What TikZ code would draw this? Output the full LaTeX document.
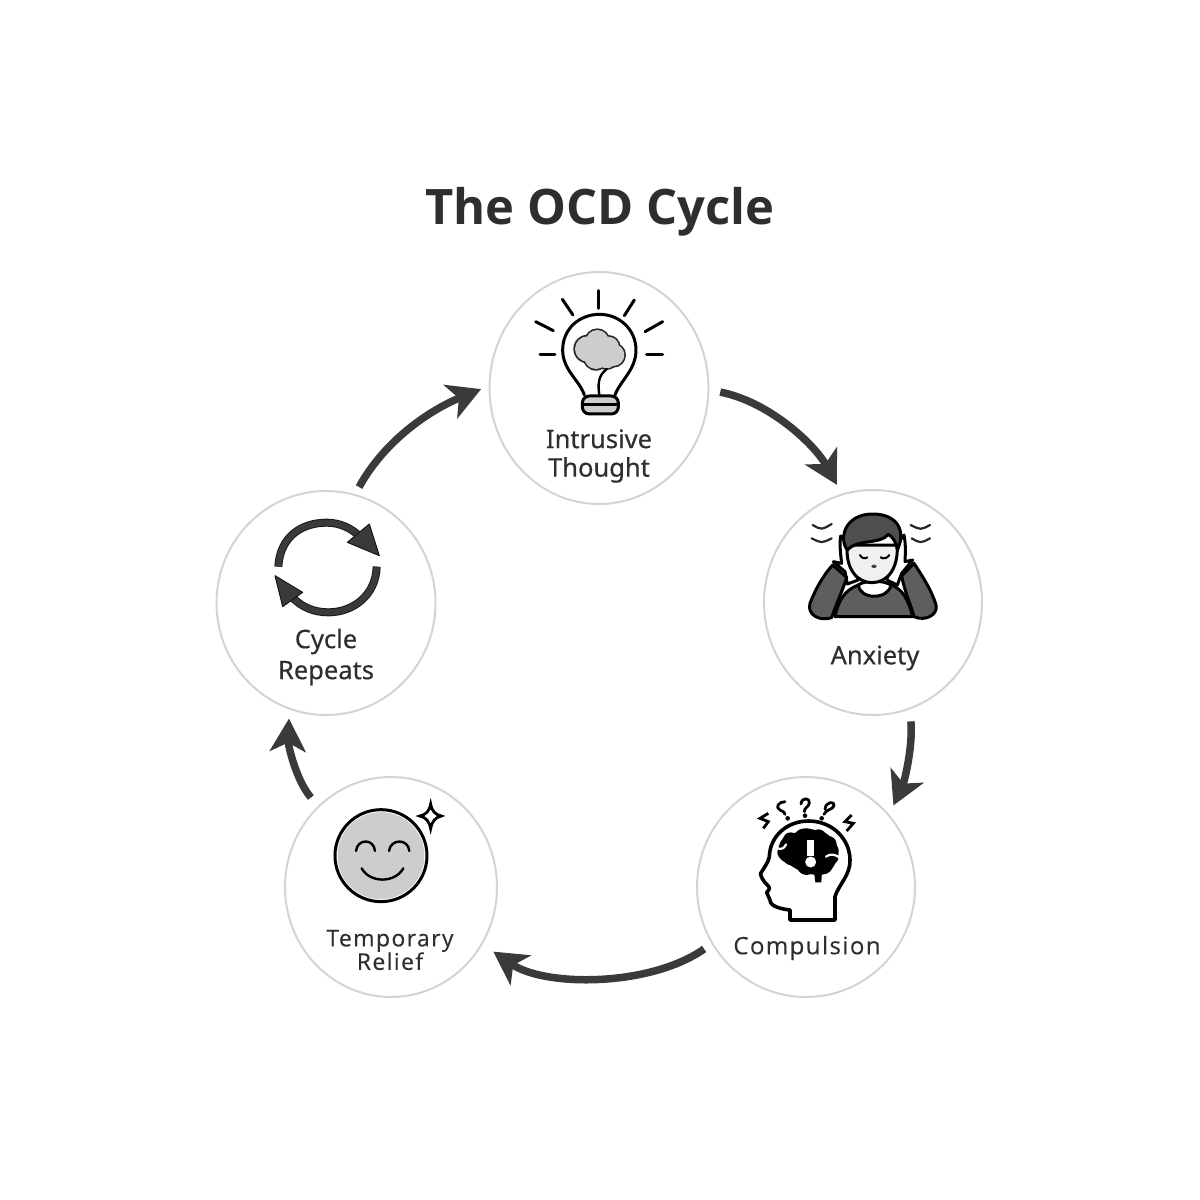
\documentclass[tikz,border=0pt]{standalone}
\usepackage{fontspec}
\setmainfont{Open Sans}
\newfontfamily\labelf[FakeBold=0.35]{Noto Sans}
\newfontfamily\spaced[LetterSpace=6,FakeBold=0.2]{Open Sans}
\usetikzlibrary{shapes.geometric,arrows.meta,calc}
\definecolor{ink}{HTML}{2E2E2E}
\definecolor{arrowc}{HTML}{3A3A3A}
\definecolor{rim}{HTML}{D4D4D4}
\definecolor{midg}{HTML}{CDCDCD}
\definecolor{darkg}{HTML}{5E5E5E}
\definecolor{hairg}{HTML}{4E4E4E}
\tikzset{
 stage/.style={ellipse,draw=rim,line width=2pt,fill=white,inner sep=0pt},
 label/.style={text=ink,align=center,inner sep=0pt},
 flow/.style={draw=arrowc,line width=7.5pt,-{Stealth[length=33pt,width=36pt,inset=9pt]}},
 iconline/.style={draw=black,line width=3pt,line cap=round,line join=round},
 zoomed/.style={x=0.3333pt,y=-0.3333pt},
}
\begin{document}
\begin{tikzpicture}[x=1pt,y=-1pt]
\useasboundingbox (0,0) rectangle (1200,1200);
\fill[white] (0,0) rectangle (1200,1200);
\node[text=ink,inner sep=0pt,font=\fontsize{48.9}{56}\selectfont\bfseries] (title) at (600,212) {The OCD Cycle};
\node[stage,minimum width=219pt,minimum height=232pt] (intr) at (599,388) {};
\node[stage,minimum width=218pt,minimum height=225pt] (anx) at (873,602.5) {};
\node[stage,minimum width=218pt,minimum height=220pt] (comp) at (806,887) {};
\node[stage,minimum width=212pt,minimum height=220pt] (rel) at (391,887) {};
\node[stage,minimum width=219pt,minimum height=224pt] (rep) at (326,603) {};
% connectors
\draw[flow,shorten <=11pt,shorten >=10pt] (intr.-1) .. controls (770,402) and (815,445) .. (anx.106);
\draw[flow,shorten <=12pt,shorten >=10pt] (anx.-71) .. controls (913,745) and (905,780) .. (comp.41);
\draw[flow,shorten <=9pt,shorten >=13pt] (comp.-149) .. controls (650,987) and (545,987) .. (rel.-32);
\draw[flow,shorten <=11pt,shorten >=9pt] (rel.132) .. controls (296,780) and (288,745) .. (rep.-109);
\draw[flow,shorten <=8pt,shorten >=8pt] (rep.75) .. controls (385,440) and (430,410) .. (intr.179);
% bulb
\begin{scope}[shift={(490,270)},zoomed]
\foreach \a/\b in {{325,62}/{325,115},{217,88}/{249,135},{433,90}/{403,137},{137,155}/{190,182},{518,155}/{465,185},{150,254}/{195,254},{470,255}/{518,255}}
  \draw[iconline] (\a) -- (\b);
\draw[iconline] (283,375) .. controls (268,330) and (218,300) .. (218,240) .. controls (218,175) and (270,133) .. (328,133) .. controls (390,133) and (438,180) .. (438,240) .. controls (438,300) and (392,330) .. (375,375);
\foreach \p/\r in {{293,237}/38,{322,214}/34,{355,232}/32,{370,255}/33,{318,262}/35,{350,265}/30}
  \fill[black!85] (\p) circle[radius=\r+5];
\foreach \p/\r in {{293,237}/38,{322,214}/34,{355,232}/32,{370,255}/33,{318,262}/35,{350,265}/30}
  \fill[midg] (\p) circle[radius=\r];
\draw[iconline,line width=2.4pt] (350,297) .. controls (335,310) and (320,325) .. (328,375);
\draw[iconline,fill=midg,rounded corners=7pt] (277,378) rectangle (385,432);
\draw[iconline] (279,405) -- (383,405);
\end{scope}
% anxious person
\begin{scope}[shift={(790,500)},zoomed]
\draw[iconline,fill=darkg] (135,350) .. controls (145,300) and (165,270) .. (205,255) -- (305,255) .. controls (340,270) and (355,300) .. (368,350) -- cycle;
\draw[iconline,fill=white] (205,255) .. controls (210,300) and (295,300) .. (303,255) .. controls (280,240) and (225,240) .. (205,255) -- cycle;
\draw[iconline,fill=white] (172,252) -- (205,240) -- (172,140) .. controls (168,125) and (160,112) .. (152,108) .. controls (148,135) and (152,165) .. (155,190) -- (130,185) -- (165,215) -- cycle;
\draw[iconline,fill=white] (322,255) -- (290,240) -- (322,140) .. controls (328,125) and (335,112) .. (342,105) .. controls (348,135) and (346,160) .. (345,185) -- (368,180) -- (335,220) -- cycle;
\draw[iconline,fill=darkg] (128,195) .. controls (100,225) and (75,270) .. (60,310) .. controls (50,345) and (90,365) .. (125,353) .. controls (135,320) and (155,280) .. (170,232) -- cycle;
\draw[iconline,fill=darkg] (372,190) .. controls (395,225) and (425,270) .. (438,315) .. controls (445,345) and (405,365) .. (372,350) .. controls (365,320) and (345,280) .. (335,228) -- cycle;
\draw[iconline,fill=gray!12] (172,135) .. controls (165,210) and (205,248) .. (245,248) .. controls (290,248) and (325,210) .. (322,135) -- cycle;
\draw[iconline,fill=hairg] (172,150) .. controls (145,115) and (165,42) .. (248,42) .. controls (320,42) and (350,90) .. (322,150) .. controls (320,130) and (310,112) .. (295,103) .. controls (270,135) and (205,115) .. (172,150) -- cycle;
\draw[draw=black,line width=2pt,line cap=round] (210,165) .. controls (215,175) and (225,178) .. (232,172);
\draw[draw=black,line width=2pt,line cap=round] (272,172) .. controls (280,178) and (292,175) .. (298,165);
\fill[black!75] (252,199) ellipse[x radius=8,y radius=5];
\foreach \a/\b/\c in {{68,75}/{95,90}/{125,72},{65,115}/{95,130}/{125,115},{362,75}/{392,90}/{420,75},{365,115}/{392,130}/{420,115}}
  \draw[draw=black!85,line width=2.2pt,line cap=round] (\a) .. controls (\b) .. (\c);
\end{scope}
% brain head
\begin{scope}[shift={(740,785)},zoomed]
\draw[draw=black,line width=3.6pt,line join=round,line cap=round] (150,405) -- (150,375) .. controls (125,372) and (90,365) .. (90,345) .. controls (88,335) and (80,328) .. (80,322) .. controls (88,315) and (92,308) .. (82,300) .. controls (70,290) and (60,270) .. (62,265) .. controls (75,245) and (85,230) .. (88,215) .. controls (90,150) and (145,108) .. (205,108) .. controls (280,108) and (330,165) .. (330,225) .. controls (332,270) and (295,300) .. (285,335) -- (285,405) -- cycle;
\fill[black] plot[smooth cycle,tension=0.5] coordinates {(112,205)(122,170)(140,150)(170,142)(195,130)(225,135)(258,145)(282,168)(296,195)(290,225)(275,252)(248,268)(215,268)(175,255)(150,240)(125,225)};
\foreach \p/\r in {{152,165}/23,{190,158}/27,{235,158}/25,{265,178}/25,{272,215}/24,{250,240}/28,{200,240}/30,{155,215}/26}
  \fill[black] (\p) circle[radius=\r];
\fill[black] (222,260) -- (246,260) -- (244,292) -- (226,292) -- cycle;
\draw[white,line width=2.2pt,line cap=round] (112,190) .. controls (125,195) and (135,188) .. (138,178);
\draw[white,line width=2.2pt,line cap=round] (258,215) .. controls (270,205) and (285,208) .. (300,218);
\draw[white,line width=7pt] (212,165) -- (212,212);
\fill[white] (212,231) circle[radius=5.5pt];
\draw[draw=black,line width=2.8pt,line cap=round,line join=round] (135,50) .. controls (115,50) and (105,68) .. (120,75) .. controls (130,80) and (135,82) .. (135,88);
\fill[black] (143,100) circle[radius=2.3pt];
\draw[draw=black,line width=2.8pt,line cap=round,line join=round] (183,57) .. controls (185,35) and (212,38) .. (208,55) .. controls (205,68) and (192,68) .. (193,80);
\fill[black] (195,92) circle[radius=2.3pt];
\draw[draw=black,line width=2.8pt,line cap=round,line join=round] (255,72) .. controls (258,48) and (285,48) .. (282,62) .. controls (278,75) and (258,72) .. (252,88);
\fill[black] (245,100) circle[radius=2.3pt];
\draw[draw=black,line width=2.8pt,line join=miter] (85,85) -- (60,100) -- (85,110) -- (70,130);
\draw[draw=black,line width=2.8pt,line join=miter] (335,90) -- (315,110) -- (340,115) -- (320,138);
\end{scope}
% smiley
\begin{scope}[shift={(320,790)},zoomed]
\draw[draw=black,line width=3pt,fill=white] (183,197) circle[radius=46pt];
\fill[midg] (183,197) circle[radius=43.5pt];
\draw[iconline,line width=2.4pt] (108,183) .. controls (112,145) and (162,145) .. (165,183);
\draw[iconline,line width=2.4pt] (207,183) .. controls (212,145) and (265,145) .. (268,183);
\draw[iconline,line width=2.4pt] (125,235) .. controls (150,280) and (225,280) .. (250,235);
\draw[draw=black,line width=2.8pt,fill=white,line join=miter] (332,42) .. controls (336,64) and (346,74) .. (364,78) .. controls (346,82) and (336,94) .. (332,116) .. controls (328,94) and (318,82) .. (299,78) .. controls (318,74) and (328,64) .. (332,42) -- cycle;
\end{scope}
% cycle arrows
\begin{scope}[shift={(260,505)},zoomed]
\draw[draw=black!90,line width=8pt] (55,185) .. controls (60,95) and (125,53) .. (200,53) .. controls (240,53) and (275,70) .. (300,95);
\draw[draw=arrowc,line width=6pt] (55,185) .. controls (60,95) and (125,53) .. (200,53) .. controls (240,53) and (275,70) .. (300,95);
\draw[draw=black!90,fill=arrowc,line width=1pt,line join=round] (328,57) -- (358,152) -- (262,112) -- cycle;
\draw[draw=black!90,line width=8pt] (350,185) .. controls (348,270) and (280,322) .. (205,322) .. controls (160,322) and (125,305) .. (100,280);
\draw[draw=arrowc,line width=6pt] (350,185) .. controls (348,270) and (280,322) .. (205,322) .. controls (160,322) and (125,305) .. (100,280);
\draw[draw=black!90,fill=arrowc,line width=1pt,line join=round] (45,212) -- (128,262) -- (68,305) -- cycle;
\end{scope}
% labels
\node[label,font=\fontsize{25.5}{28.5}\selectfont\labelf] (t1) at (599,456) {Intrusive\\Thought};
\node[label,font=\fontsize{25.5}{30}\selectfont\labelf] (t2) at (875,658) {Anxiety};
\node[label,font=\fontsize{24}{28}\selectfont\spaced] (t3) at (807,948) {Compulsion};
\node[label,font=\fontsize{23}{23.5}\selectfont\spaced] (t4) at (390,950) {Temporary\\Relief};
\node[label,font=\fontsize{25.5}{31}\selectfont\labelf] (t5) at (326,657) {Cycle\\Repeats};
\end{tikzpicture}
\end{document}
